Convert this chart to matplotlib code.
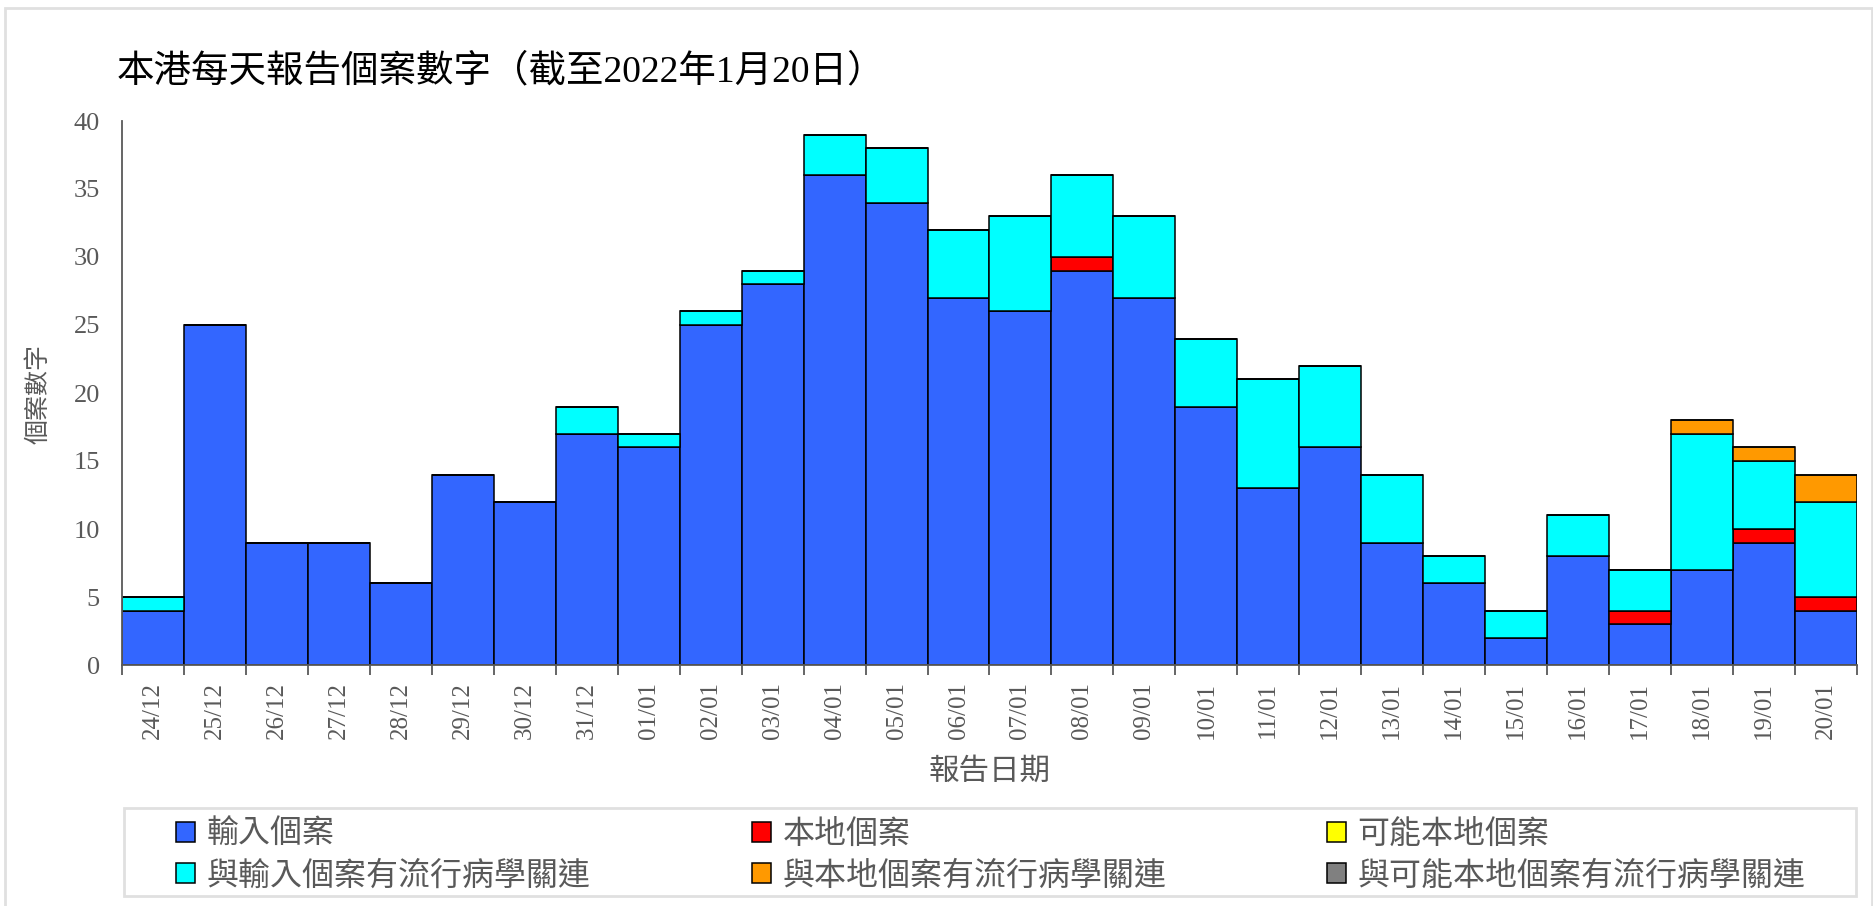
import numpy as np
import matplotlib
matplotlib.use("Agg")
from matplotlib import pyplot as plt
from matplotlib.patches import Rectangle

plt.rcParams['font.family'] = ['Noto Sans CJK TC', 'DejaVu Sans']

dates = ["24/12", "25/12", "26/12", "27/12", "28/12", "29/12", "30/12", "31/12",
         "01/01", "02/01", "03/01", "04/01", "05/01", "06/01", "07/01", "08/01",
         "09/01", "10/01", "11/01", "12/01", "13/01", "14/01", "15/01", "16/01",
         "17/01", "18/01", "19/01", "20/01"]

imported = [4, 25, 9, 9, 6, 14, 12, 17, 16, 25, 28, 36, 34, 27, 26, 29,
            27, 19, 13, 16, 9, 6, 2, 8, 3, 7, 9, 4]
local = [0, 0, 0, 0, 0, 0, 0, 0, 0, 0, 0, 0, 0, 0, 0, 1,
         0, 0, 0, 0, 0, 0, 0, 0, 1, 0, 1, 1]
possible_local = [0] * 28
linked_imported = [1, 0, 0, 0, 0, 0, 0, 2, 1, 1, 1, 3, 4, 5, 7, 6,
                   6, 5, 8, 6, 5, 2, 2, 3, 3, 10, 5, 7]
linked_local = [0, 0, 0, 0, 0, 0, 0, 0, 0, 0, 0, 0, 0, 0, 0, 0,
                0, 0, 0, 0, 0, 0, 0, 0, 0, 1, 1, 2]
linked_possible = [0] * 28

series = [
    ("輸入個案", imported, "#3366FF"),
    ("本地個案", local, "#FF0000"),
    ("可能本地個案", possible_local, "#FFFF00"),
    ("與輸入個案有流行病學關連", linked_imported, "#00FFFF"),
    ("與本地個案有流行病學關連", linked_local, "#FF9900"),
    ("與可能本地個案有流行病學關連", linked_possible, "#808080"),
]

grey = "#595959"
serif = ['Liberation Serif', 'Noto Sans CJK TC']

fig = plt.figure(figsize=(18.74, 9.06), dpi=100)
ax = fig.add_axes([122 / 1874, 1 - 665 / 906, (1857 - 122) / 1874, (665 - 121) / 906])

x = np.arange(len(dates))
bottom = np.zeros(len(dates))
handles = {}
for name, vals, col in series:
    vals = np.array(vals, dtype=float)
    bars = ax.bar(x, vals, width=1.0, bottom=bottom, color=col,
                  edgecolor="black", linewidth=1.1, label=name)
    handles[name] = bars
    bottom += vals

ax.set_xlim(-0.5, len(dates) - 0.5)
ax.set_ylim(0, 40)
ax.set_yticks(range(0, 41, 5))
ax.set_xticks(x)
ax.set_xticklabels(dates, rotation=90, va="top", ha="center")
ax.set_xticks(np.arange(-0.5, len(dates), 1.0), minor=True)

for s in ["top", "right"]:
    ax.spines[s].set_visible(False)
for s in ["left", "bottom"]:
    ax.spines[s].set_color(grey)
    ax.spines[s].set_linewidth(1.3)

ax.tick_params(axis="y", length=0, pad=16, labelsize=19, labelcolor=grey)
ax.tick_params(axis="x", which="major", length=0, pad=12, labelsize=18, labelcolor=grey)
ax.tick_params(axis="x", which="minor", length=7, width=1.3, color=grey)
for lab in ax.get_xticklabels() + ax.get_yticklabels():
    lab.set_family(serif)

fig.text(117 / 1874, 1 - 72 / 906, "本港每天報告個案數字（截至2022年1月20日）",
         fontsize=27, color="black", ha="left", va="center", family=serif)
fig.text(39 / 1874, 1 - 394 / 906, "個案數字", rotation=90, fontsize=18,
         color=grey, ha="center", va="center")
fig.text(990 / 1874, 1 - 771 / 906, "報告日期", fontsize=22,
         color=grey, ha="center", va="center")

# legend: three columns, placed by hand
cols = [(["輸入個案", "與輸入個案有流行病學關連"], 176),
        (["本地個案", "與本地個案有流行病學關連"], 752),
        (["可能本地個案", "與可能本地個案有流行病學關連"], 1327)]
for names, xpix in cols:
    leg = fig.legend([handles[n] for n in names], names,
                     loc="upper left", bbox_to_anchor=(xpix / 1874, 1 - 818 / 906),
                     frameon=False, fontsize=23, handlelength=0.6, handleheight=0.6,
                     handletextpad=0.35, labelspacing=0.3, borderaxespad=0, borderpad=0)
    for t in leg.get_texts():
        t.set_color(grey)

fig.patches.append(Rectangle((124 / 1874, 1 - 896 / 906), (1856 - 124) / 1874, (896 - 808) / 906,
                             transform=fig.transFigure, fill=False, edgecolor="#e0e0e0",
                             linewidth=2))
fig.patches.append(Rectangle((5 / 1874, -0.1), (1872 - 5) / 1874, 1.1 - 8 / 906,
                             transform=fig.transFigure, fill=False, edgecolor="#e0e0e0",
                             linewidth=2))

fig.savefig("out.png", dpi=100)
